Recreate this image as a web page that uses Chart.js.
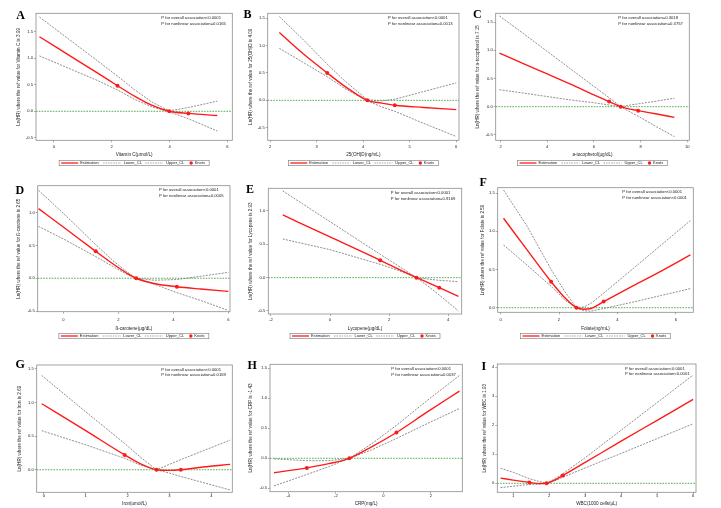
<!DOCTYPE html>
<html><head><meta charset="utf-8">
<script src="https://cdn.jsdelivr.net/npm/chart.js@4.4.1/dist/chart.umd.min.js"></script>
<style>
html,body{margin:0;padding:0;background:#fff;width:721px;height:508px;overflow:hidden;position:relative}
canvas{position:absolute}
.lbl{position:absolute;font-family:"Liberation Serif","Times New Roman",serif;font-weight:bold;font-size:12px;line-height:12px;color:#000}
</style></head><body>
<script>
// ---------------- DATA ----------------
// A: Vitamin C
const vitC_x      = [-0.5, 0.5, 1.5, 2.2, 2.8, 3.4, 3.99, 4.65, 5.65];
const vitC_est    = [1.40, 1.06, 0.72, 0.48, 0.28, 0.11, 0.00, -0.04, -0.08];
const vitC_upper  = [1.77, 1.36, 0.95, 0.66, 0.40, 0.17, 0.01, 0.07, 0.19];
const vitC_lower  = [1.04, 0.81, 0.58, 0.40, 0.22, 0.08, -0.01, -0.14, -0.37];
const vitC_knotX  = [2.2, 3.99, 4.65];
const vitC_knotY  = [0.48, 0.00, -0.04];
const vitC_xTicks = [0, 2, 4, 6];
const vitC_yTicks = [-0.5, 0, 0.5, 1, 1.5];

// B: 25(OH)D
const vitD_x      = [2.2, 2.7, 3.23, 3.6, 4.09, 4.4, 4.68, 5.3, 6.0];
const vitD_est    = [1.24, 0.86, 0.50, 0.26, 0.00, -0.05, -0.09, -0.13, -0.17];
const vitD_upper  = [1.53, 1.12, 0.66, 0.36, 0.01, -0.01, 0.02, 0.16, 0.32];
const vitD_lower  = [0.95, 0.70, 0.43, 0.22, -0.01, -0.12, -0.20, -0.42, -0.66];
const vitD_knotX  = [3.23, 4.09, 4.68];
const vitD_knotY  = [0.50, 0.00, -0.09];
const vitD_xTicks = [2, 3, 4, 5, 6];
const vitD_yTicks = [-0.5, 0, 0.5, 1, 1.5];

// C: a-tocopherol
const toco_x      = [1.95, 3, 4, 5, 6, 6.65, 6.9, 7.15, 7.4, 7.9, 8.7, 9.45];
const toco_est    = [0.95, 0.76, 0.58, 0.40, 0.21, 0.09, 0.045, 0.00, -0.03, -0.07, -0.13, -0.19];
const toco_upper  = [1.61, 1.29, 0.98, 0.67, 0.36, 0.16, 0.08, 0.00, 0.02, 0.05, 0.10, 0.15];
const toco_lower  = [0.30, 0.24, 0.18, 0.12, 0.07, 0.03, 0.015, 0.00, -0.06, -0.17, -0.36, -0.53];
const toco_knotX  = [6.65, 7.15, 7.9];
const toco_knotY  = [0.09, 0.00, -0.07];
const toco_xTicks = [2, 4, 6, 8, 10];
const toco_yTicks = [-0.5, 0, 0.5, 1, 1.5];

// D: ß-carotene
const carot_x      = [-0.9, 0, 1.18, 1.8, 2.3, 2.65, 3.3, 4.13, 5.0, 6.0];
const carot_est    = [1.06, 0.78, 0.41, 0.22, 0.08, 0.00, -0.08, -0.13, -0.165, -0.20];
const carot_upper  = [1.34, 0.99, 0.51, 0.27, 0.10, 0.00, -0.03, -0.02, 0.03, 0.09];
const carot_lower  = [0.79, 0.60, 0.33, 0.18, 0.06, 0.00, -0.09, -0.22, -0.34, -0.49];
const carot_knotX  = [1.18, 2.65, 4.13];
const carot_knotY  = [0.41, 0.00, -0.13];
const carot_xTicks = [0, 2, 4, 6];
const carot_yTicks = [-0.5, 0, 0.5, 1];

// E: Lycopene
const lyco_x      = [-1.6, 0, 1.7, 2.3, 2.93, 3.3, 3.7, 4.35];
const lyco_est    = [0.94, 0.61, 0.26, 0.13, 0.00, -0.07, -0.15, -0.28];
const lyco_upper  = [1.30, 0.84, 0.35, 0.18, 0.00, -0.02, -0.04, -0.06];
const lyco_lower  = [0.58, 0.42, 0.20, 0.11, 0.00, -0.12, -0.26, -0.50];
const lyco_knotX  = [1.7, 2.93, 3.7];
const lyco_knotY  = [0.26, 0.00, -0.15];
const lyco_xTicks = [-2, 0, 2, 4];
const lyco_yTicks = [-0.5, 0, 0.5, 1];

// F: Folate
const fol_x      = [0.1, 0.9, 1.73, 2.2, 2.6, 2.85, 3.1, 3.53, 4.5, 5.5, 6.5];
const fol_est    = [1.17, 0.76, 0.34, 0.13, 0.00, -0.02, -0.01, 0.08, 0.28, 0.48, 0.69];
const fol_upper  = [1.54, 1.07, 0.50, 0.21, 0.00, 0.01, 0.06, 0.19, 0.50, 0.82, 1.14];
const fol_lower  = [0.82, 0.56, 0.28, 0.10, 0.00, -0.04, -0.045, -0.01, 0.07, 0.16, 0.25];
const fol_knotX  = [1.73, 2.6, 3.53];
const fol_knotY  = [0.34, 0.00, 0.08];
const fol_xTicks = [0, 2, 4, 6];
const fol_yTicks = [0, 0.5, 1, 1.5];

// G: Iron
const iron_x      = [-0.05, 1.0, 1.93, 2.3, 2.69, 3.0, 3.27, 3.8, 4.45];
const iron_est    = [0.98, 0.58, 0.22, 0.09, 0.00, -0.01, 0.00, 0.04, 0.08];
const iron_upper  = [1.40, 0.86, 0.39, 0.19, 0.00, 0.08, 0.15, 0.28, 0.44];
const iron_lower  = [0.58, 0.37, 0.17, 0.07, 0.00, -0.05, -0.10, -0.19, -0.30];
const iron_knotX  = [1.93, 2.69, 3.27];
const iron_knotY  = [0.22, 0.00, 0.00];
const iron_xTicks = [0, 1, 2, 3, 4];
const iron_yTicks = [0, 0.5, 1, 1.5];

// H: CRP
const crp_x      = [-4.6, -3.22, -2.3, -1.43, -0.5, 0.55, 1.8, 3.2];
const crp_est    = [-0.24, -0.16, -0.09, 0.00, 0.19, 0.43, 0.76, 1.12];
const crp_upper  = [-0.01, -0.04, -0.04, 0.00, 0.24, 0.55, 0.95, 1.38];
const crp_lower  = [-0.46, -0.27, -0.14, 0.00, 0.14, 0.33, 0.57, 0.83];
const crp_knotX  = [-3.22, -1.43, 0.55];
const crp_knotY  = [-0.16, 0.00, 0.43];
const crp_xTicks = [-4, -2, 0, 2];
const crp_yTicks = [-0.5, 0, 0.5, 1, 1.5];

// I: WBC
const wbc_x      = [0.65, 1.0, 1.45, 1.7, 1.93, 2.15, 2.38, 3.0, 4.0, 5.0, 6.0];
const wbc_est    = [0.18, 0.11, 0.03, -0.01, 0.00, 0.11, 0.27, 0.72, 1.45, 2.17, 2.89];
const wbc_upper  = [0.52, 0.38, 0.16, 0.07, 0.00, 0.15, 0.33, 0.88, 1.83, 2.78, 3.73];
const wbc_lower  = [-0.15, -0.10, -0.04, -0.03, 0.00, 0.08, 0.21, 0.53, 1.03, 1.54, 2.05];
const wbc_knotX  = [1.45, 1.93, 2.38];
const wbc_knotY  = [0.03, 0.00, 0.27];
const wbc_xTicks = [1, 2, 3, 4, 5, 6];
const wbc_yTicks = [0, 1, 2, 3, 4];

const legendLabels = ['Estimation', 'Lower_CL', 'Upper_CL', 'Knots'];

// ---------------- PANELS (text + layout) ----------------
const panels = [
 {id:'A', x:vitC_x, est:vitC_est, up:vitC_upper, lo:vitC_lower, kx:vitC_knotX, ky:vitC_knotY, xt:vitC_xTicks, yt:vitC_yTicks, yDec:1,
  xTitle:'Vitamin C(μmol/L)', yTitle:'Ln(HR) where the ref value for Vitamin C is 3.99',
  p1:'P for overall association<0.0001', p2:'P for nonlinear association=0.0165',
  rect:[36,13.3,232.3,140.3], xr:[-0.62,6.17], yr:[-0.545,1.84], yOff:17.5, row:0, letter:[16.2,19.2]},
 {id:'B', x:vitD_x, est:vitD_est, up:vitD_upper, lo:vitD_lower, kx:vitD_knotX, ky:vitD_knotY, xt:vitD_xTicks, yt:vitD_yTicks, yDec:1,
  xTitle:'25(OH)D(ng/mL)', yTitle:'Ln(HR) where the ref value for 25(OH)D is 4.09',
  p1:'P for overall association<0.0001', p2:'P for nonlinear association=0.0013',
  rect:[267.7,13.3,459,140.3], xr:[1.95,6.06], yr:[-0.73,1.59], yOff:17, row:0, letter:[243.5,17.8]},
 {id:'C', x:toco_x, est:toco_est, up:toco_upper, lo:toco_lower, kx:toco_knotX, ky:toco_knotY, xt:toco_xTicks, yt:toco_yTicks, yDec:1,
  xTitle:'a-tocopherol(μg/dL)', yTitle:'Ln(HR) where the ref value for a-tocopherol is 7.15',
  p1:'P for overall association=0.3018', p2:'P for nonlinear association=0.3757',
  rect:[495.7,13.3,689.3,140.3], xr:[1.79,10.09], yr:[-0.596,1.656], yOff:18, row:0, letter:[473,17.8]},
 {id:'D', x:carot_x, est:carot_est, up:carot_upper, lo:carot_lower, kx:carot_knotX, ky:carot_knotY, xt:carot_xTicks, yt:carot_yTicks, yDec:1,
  xTitle:'ß-carotene(μg/dL)', yTitle:'Ln(HR) where the ref value for ß-carotene is 2.65',
  p1:'P for overall association<0.0001', p2:'P for nonlinear association=0.0005',
  rect:[37.7,185.7,230,311.7], xr:[-0.93,6.06], yr:[-0.51,1.41], yOff:19, row:1, letter:[15.5,193.8]},
 {id:'E', x:lyco_x, est:lyco_est, up:lyco_upper, lo:lyco_lower, kx:lyco_knotX, ky:lyco_knotY, xt:lyco_xTicks, yt:lyco_yTicks, yDec:1,
  xTitle:'Lycopene(μg/dL)', yTitle:'Ln(HR) where the ref value for Lycopene is 2.93',
  p1:'P for overall association<0.0001', p2:'P for nonlinear association=0.9169',
  rect:[268.3,188.3,461.7,314], xr:[-2.09,4.46], yr:[-0.545,1.34], yOff:18, row:1, letter:[246,193.3]},
 {id:'F', x:fol_x, est:fol_est, up:fol_upper, lo:fol_lower, kx:fol_knotX, ky:fol_knotY, xt:fol_xTicks, yt:fol_yTicks, yDec:1,
  xTitle:'Folate(ng/mL)', yTitle:'Ln(HR) where the ref value for Folate is 2.59',
  p1:'P for overall association<0.0001', p2:'P for nonlinear association<0.0001',
  rect:[497.7,187.7,693.3,312.3], xr:[-0.10,6.60], yr:[-0.06,1.57], yOff:15, row:1, letter:[479.5,186.3]},
 {id:'G', x:iron_x, est:iron_est, up:iron_upper, lo:iron_lower, kx:iron_knotX, ky:iron_knotY, xt:iron_xTicks, yt:iron_yTicks, yDec:1,
  xTitle:'Iron(umol/L)', yTitle:'Ln(HR) where the ref value for Iron is 2.69',
  p1:'P for overall association<0.0001', p2:'P for nonlinear association=0.0169',
  rect:[36.7,365,232.3,492.3], xr:[-0.17,4.50], yr:[-0.335,1.555], yOff:17, row:2, letter:[15.5,368.3]},
 {id:'H', x:crp_x, est:crp_est, up:crp_upper, lo:crp_lower, kx:crp_knotX, ky:crp_knotY, xt:crp_xTicks, yt:crp_yTicks, yDec:1,
  xTitle:'CRP(mg/L)', yTitle:'Ln(HR) where the ref value for CRP is -1.43',
  p1:'P for overall association<0.0001', p2:'P for nonlinear association=0.0037',
  rect:[270,364.3,462.3,491.7], xr:[-4.77,3.32], yr:[-0.557,1.567], yOff:19, row:2, letter:[247.5,368.8]},
 {id:'I', x:wbc_x, est:wbc_est, up:wbc_upper, lo:wbc_lower, kx:wbc_knotX, ky:wbc_knotY, xt:wbc_xTicks, yt:wbc_yTicks, yDec:0,
  xTitle:'WBC(1000 cells/μL)', yTitle:'Ln(HR) where the ref value for WBC is 1.93',
  p1:'P for overall association<0.0001', p2:'P for nonlinear association<0.0001',
  rect:[497.3,364,696,492.3], xr:[0.56,6.08], yr:[-0.31,4.11], yOff:13, row:2, letter:[481.5,369.8]}
];
const rows = [
  {labelY:146.7, titleY:154.3, legendY:163},
  {labelY:319.8, titleY:328.5, legendY:336},
  {labelY:495.7, titleY:504,   legendY:514}
];

const FAMILY = '"Liberation Sans", Arial, sans-serif';
const TICK_FS = 4.1, XT_FS = 4.6, YT_FS = 4.6, P_FS = 4.2, LEG_FS = 4;
const RED = '#ff1a1a', GRAY = '#6a6a6a', GREEN = '#3fa43f';

const decoPlugin = {
  id: 'deco',
  beforeDatasetsDraw(chart) {
    const {ctx, chartArea: a, scales: {y}} = chart;
    const py = y.getPixelForValue(0);
    ctx.save();
    ctx.strokeStyle = GREEN; ctx.lineWidth = 0.9; ctx.setLineDash([1.6, 1.2]);
    ctx.beginPath(); ctx.moveTo(a.left, py); ctx.lineTo(a.right, py); ctx.stroke();
    ctx.restore();
  },
  afterDraw(chart, args, o) {
    const {ctx, chartArea: a} = chart;
    ctx.save();
    ctx.strokeStyle = '#8c8c8c'; ctx.lineWidth = 0.8; ctx.setLineDash([]);
    ctx.strokeRect(a.left, a.top, a.right - a.left, a.bottom - a.top);
    ctx.fillStyle = '#222'; ctx.textBaseline = 'middle'; ctx.textAlign = 'left';
    ctx.font = P_FS + 'px ' + FAMILY;
    ctx.fillText(o.p1, a.right - 71, a.top + 4.6);
    ctx.fillText(o.p2, a.right - 71, a.top + 10.3);
    // legend
    const cx = (a.left + a.right) / 2, ly = o.legendY, x0 = cx - 75;
    ctx.strokeStyle = '#777'; ctx.lineWidth = 0.6;
    ctx.strokeRect(x0, ly - 2.7, 150, 5.4);
    ctx.font = LEG_FS + 'px ' + FAMILY;
    ctx.strokeStyle = RED; ctx.lineWidth = 1.3;
    ctx.beginPath(); ctx.moveTo(x0 + 2, ly); ctx.lineTo(x0 + 19, ly); ctx.stroke();
    ctx.fillText(legendLabels[0], x0 + 21, ly);
    ctx.strokeStyle = GRAY; ctx.lineWidth = 0.6; ctx.setLineDash([1.5, 1]);
    ctx.beginPath(); ctx.moveTo(x0 + 44, ly); ctx.lineTo(x0 + 62, ly); ctx.stroke();
    ctx.fillText(legendLabels[1], x0 + 64.5, ly);
    ctx.beginPath(); ctx.moveTo(x0 + 86, ly); ctx.lineTo(x0 + 104, ly); ctx.stroke();
    ctx.fillText(legendLabels[2], x0 + 107, ly);
    ctx.setLineDash([]);
    ctx.fillStyle = RED; ctx.beginPath(); ctx.arc(x0 + 132, ly, 1.7, 0, Math.PI * 2); ctx.fill();
    ctx.fillStyle = '#222';
    ctx.fillText(legendLabels[3], x0 + 135.5, ly);
    ctx.restore();
  }
};

const pts = (xs, ys) => xs.map((v, i) => ({x: v, y: ys[i]}));

panels.forEach(p => {
  const [L, T, R, B] = p.rect;
  const row = rows[p.row];
  const yw = p.yOff + YT_FS * 1.2 / 2;
  const cL = Math.floor(L - yw - 1), padL = L - yw - cL;
  const cT = Math.floor(T - 7), padT = T - cT;
  const cR = Math.ceil(R + 7), padR = cR - R;
  const xh = (row.titleY - B) + XT_FS * 1.2 / 2;
  const cB = Math.ceil(row.legendY + 5);
  const padB = cB - (B + xh);
  const xpad = row.labelY - B - 2 - TICK_FS * 1.2 / 2;

  const cv = document.createElement('canvas');
  cv.width = cR - cL; cv.height = cB - cT;
  cv.style.left = cL + 'px'; cv.style.top = cT + 'px';
  document.body.appendChild(cv);

  const lbl = document.createElement('div');
  lbl.className = 'lbl'; lbl.textContent = p.id;
  lbl.style.left = p.letter[0] + 'px'; lbl.style.top = (p.letter[1] - 10) + 'px';
  document.body.appendChild(lbl);

  const tickFont = {size: TICK_FS, family: FAMILY};
  new Chart(cv, {
    type: 'line',
    data: {datasets: [
      {label: legendLabels[1], data: pts(p.x, p.lo), borderColor: GRAY, borderWidth: 0.75, borderDash: [2, 1.2], pointRadius: 0, tension: 0, order: 3},
      {label: legendLabels[2], data: pts(p.x, p.up), borderColor: GRAY, borderWidth: 0.75, borderDash: [2, 1.2], pointRadius: 0, tension: 0, order: 3},
      {label: legendLabels[0], data: pts(p.x, p.est), borderColor: RED, borderWidth: 1.4, pointRadius: 0, cubicInterpolationMode: 'monotone', order: 2},
      {label: legendLabels[3], data: pts(p.kx, p.ky), showLine: false, pointRadius: 2, pointBackgroundColor: RED, pointBorderWidth: 0, order: 1}
    ]},
    options: {
      responsive: false, animation: false, events: [],
      layout: {padding: {left: padL, top: padT, right: padR, bottom: padB}},
      plugins: {legend: {display: false}, tooltip: {enabled: false},
        deco: {p1: p.p1, p2: p.p2, legendY: row.legendY - cT}},
      scales: {
        x: {type: 'linear', min: p.xr[0], max: p.xr[1],
          afterBuildTicks: s => { s.ticks = p.xt.map(v => ({value: v})); },
          afterFit: s => { s.height = xh; },
          ticks: {font: tickFont, color: '#222', padding: xpad, maxRotation: 0, autoSkip: false, callback: v => String(v)},
          grid: {display: true, drawOnChartArea: false, drawTicks: true, tickLength: 2, tickColor: '#777', tickWidth: 0.6},
          border: {display: false},
          title: {display: true, text: p.xTitle, font: {size: XT_FS, family: FAMILY}, color: '#222', padding: 0}},
        y: {type: 'linear', min: p.yr[0], max: p.yr[1],
          afterBuildTicks: s => { s.ticks = p.yt.map(v => ({value: v})); },
          afterFit: s => { s.width = yw; },
          ticks: {font: tickFont, color: '#222', padding: 1, autoSkip: false, callback: v => Number(v).toFixed(p.yDec)},
          grid: {display: true, drawOnChartArea: false, drawTicks: true, tickLength: 2, tickColor: '#777', tickWidth: 0.6},
          border: {display: false},
          title: {display: true, text: p.yTitle, font: {size: YT_FS, family: FAMILY}, color: '#222', padding: 0}}
      }
    },
    plugins: [decoPlugin]
  });
});
</script>
</body></html>
